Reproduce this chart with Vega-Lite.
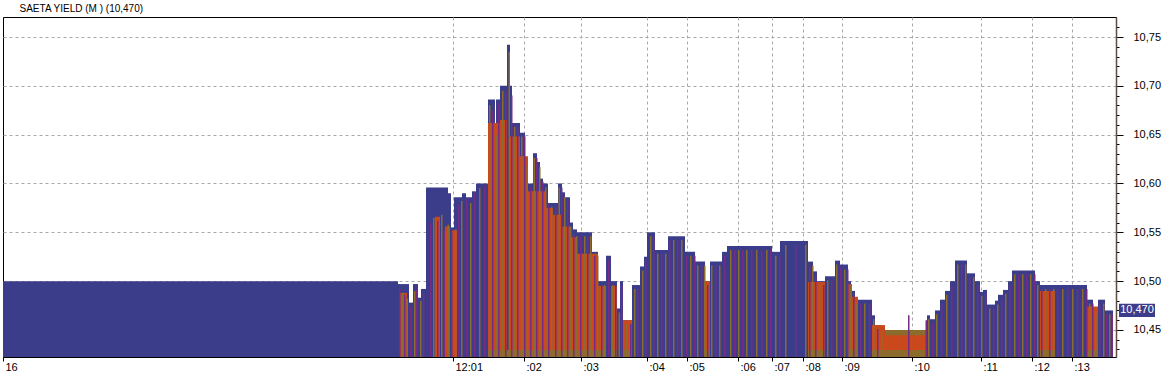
{
  "$schema": "https://vega.github.io/schema/vega-lite/v6.json",
  "width": 1113,
  "height": 340,
  "autosize": {"type": "none"},
  "padding": {"left": 3, "top": 17, "right": 54, "bottom": 19},
  "background": "#ffffff",
  "title": {"text": "SAETA YIELD (M ) (10,470)", "anchor": "start", "dx": 17, "offset": 3, "fontSize": 10, "font": "Liberation Sans", "fontWeight": "normal", "color": "#000000"},
  "config": {"view": {"stroke": "#000000", "strokeWidth": 1}, "font": "Liberation Sans"},
  "datasets": {
    "blocks": [
      {"a":3,"b":398,"v":10.5,"c":"b"},
      {"a":398,"b":409,"v":10.497,"c":"b"},
      {"a":409,"b":413,"v":10.478,"c":"b"},
      {"a":413,"b":418,"v":10.497,"c":"b"},
      {"a":418,"b":421,"v":10.483,"c":"b"},
      {"a":421,"b":426,"v":10.492,"c":"b"},
      {"a":426,"b":448,"v":10.596,"c":"b"},
      {"a":448,"b":451,"v":10.59,"c":"b"},
      {"a":451,"b":454,"v":10.555,"c":"b"},
      {"a":454,"b":462,"v":10.586,"c":"b"},
      {"a":462,"b":466,"v":10.59,"c":"b"},
      {"a":466,"b":472,"v":10.586,"c":"b"},
      {"a":472,"b":476,"v":10.592,"c":"b"},
      {"a":476,"b":488,"v":10.6,"c":"b"},
      {"a":488,"b":495,"v":10.686,"c":"b"},
      {"a":495,"b":496,"v":10.66,"c":"b"},
      {"a":496,"b":500,"v":10.686,"c":"b"},
      {"a":500,"b":507,"v":10.7,"c":"b"},
      {"a":507,"b":510,"v":10.742,"c":"b"},
      {"a":510,"b":512,"v":10.7,"c":"b"},
      {"a":512,"b":520,"v":10.662,"c":"b"},
      {"a":520,"b":525,"v":10.652,"c":"b"},
      {"a":525,"b":528,"v":10.622,"c":"b"},
      {"a":528,"b":533,"v":10.6,"c":"b"},
      {"a":533,"b":537,"v":10.631,"c":"b"},
      {"a":537,"b":540,"v":10.622,"c":"b"},
      {"a":540,"b":543,"v":10.605,"c":"b"},
      {"a":543,"b":548,"v":10.6,"c":"b"},
      {"a":548,"b":558,"v":10.58,"c":"b"},
      {"a":558,"b":562,"v":10.6,"c":"b"},
      {"a":562,"b":565,"v":10.591,"c":"b"},
      {"a":565,"b":570,"v":10.586,"c":"b"},
      {"a":570,"b":573,"v":10.56,"c":"b"},
      {"a":573,"b":577,"v":10.553,"c":"b"},
      {"a":577,"b":592,"v":10.55,"c":"b"},
      {"a":592,"b":598,"v":10.53,"c":"b"},
      {"a":598,"b":606,"v":10.5,"c":"b"},
      {"a":606,"b":611,"v":10.526,"c":"b"},
      {"a":611,"b":617,"v":10.5,"c":"b"},
      {"a":617,"b":620,"v":10.472,"c":"b"},
      {"a":620,"b":623,"v":10.5,"c":"b"},
      {"a":623,"b":632,"v":10.46,"c":"b"},
      {"a":632,"b":640,"v":10.496,"c":"b"},
      {"a":640,"b":644,"v":10.515,"c":"b"},
      {"a":644,"b":647,"v":10.525,"c":"b"},
      {"a":647,"b":655,"v":10.55,"c":"b"},
      {"a":655,"b":668,"v":10.532,"c":"b"},
      {"a":668,"b":685,"v":10.546,"c":"b"},
      {"a":685,"b":695,"v":10.53,"c":"b"},
      {"a":695,"b":705,"v":10.52,"c":"b"},
      {"a":705,"b":710,"v":10.5,"c":"b"},
      {"a":710,"b":722,"v":10.52,"c":"b"},
      {"a":722,"b":727,"v":10.53,"c":"b"},
      {"a":727,"b":772,"v":10.536,"c":"b"},
      {"a":772,"b":780,"v":10.53,"c":"b"},
      {"a":780,"b":808,"v":10.541,"c":"b"},
      {"a":808,"b":813,"v":10.52,"c":"b"},
      {"a":813,"b":817,"v":10.51,"c":"b"},
      {"a":817,"b":825,"v":10.5,"c":"b"},
      {"a":825,"b":835,"v":10.505,"c":"b"},
      {"a":835,"b":840,"v":10.521,"c":"b"},
      {"a":840,"b":848,"v":10.517,"c":"b"},
      {"a":848,"b":851,"v":10.5,"c":"b"},
      {"a":851,"b":855,"v":10.49,"c":"b"},
      {"a":855,"b":872,"v":10.481,"c":"b"},
      {"a":872,"b":875,"v":10.465,"c":"b"},
      {"a":875,"b":880,"v":10.455,"c":"b"},
      {"a":880,"b":885,"v":10.453,"c":"b"},
      {"a":885,"b":927,"v":10.45,"c":"b"},
      {"a":927,"b":930,"v":10.465,"c":"b"},
      {"a":930,"b":935,"v":10.461,"c":"b"},
      {"a":935,"b":940,"v":10.47,"c":"b"},
      {"a":940,"b":945,"v":10.481,"c":"b"},
      {"a":945,"b":950,"v":10.49,"c":"b"},
      {"a":950,"b":955,"v":10.5,"c":"b"},
      {"a":955,"b":967,"v":10.521,"c":"b"},
      {"a":967,"b":975,"v":10.508,"c":"b"},
      {"a":975,"b":980,"v":10.5,"c":"b"},
      {"a":980,"b":983,"v":10.489,"c":"b"},
      {"a":983,"b":987,"v":10.491,"c":"b"},
      {"a":987,"b":995,"v":10.476,"c":"b"},
      {"a":995,"b":998,"v":10.48,"c":"b"},
      {"a":998,"b":1003,"v":10.486,"c":"b"},
      {"a":1003,"b":1008,"v":10.491,"c":"b"},
      {"a":1008,"b":1012,"v":10.5,"c":"b"},
      {"a":1012,"b":1035,"v":10.511,"c":"b"},
      {"a":1035,"b":1040,"v":10.5,"c":"b"},
      {"a":1040,"b":1087,"v":10.496,"c":"b"},
      {"a":1087,"b":1093,"v":10.481,"c":"b"},
      {"a":1093,"b":1098,"v":10.47,"c":"b"},
      {"a":1098,"b":1105,"v":10.481,"c":"b"},
      {"a":1105,"b":1113,"v":10.47,"c":"b"},
      {"a":399,"b":407,"v":10.488,"c":"o"},
      {"a":435,"b":440,"v":10.566,"c":"o"},
      {"a":445,"b":450,"v":10.556,"c":"o"},
      {"a":452,"b":457,"v":10.552,"c":"o"},
      {"a":488,"b":500,"v":10.662,"c":"o"},
      {"a":500,"b":507,"v":10.665,"c":"o"},
      {"a":510,"b":520,"v":10.648,"c":"o"},
      {"a":520,"b":528,"v":10.628,"c":"o"},
      {"a":528,"b":545,"v":10.592,"c":"o"},
      {"a":545,"b":553,"v":10.575,"c":"o"},
      {"a":553,"b":562,"v":10.568,"c":"o"},
      {"a":562,"b":570,"v":10.556,"c":"o"},
      {"a":570,"b":577,"v":10.545,"c":"o"},
      {"a":577,"b":598,"v":10.528,"c":"o"},
      {"a":598,"b":606,"v":10.495,"c":"o"},
      {"a":611,"b":617,"v":10.495,"c":"o"},
      {"a":623,"b":632,"v":10.46,"c":"o"},
      {"a":705,"b":710,"v":10.5,"c":"o"},
      {"a":808,"b":825,"v":10.499,"c":"o"},
      {"a":848,"b":852,"v":10.497,"c":"o"},
      {"a":852,"b":858,"v":10.484,"c":"o"},
      {"a":872,"b":885,"v":10.455,"c":"o"},
      {"a":885,"b":927,"v":10.45,"c":"g"},
      {"a":885,"b":927,"v":10.4445,"c":"o"},
      {"a":1040,"b":1055,"v":10.49,"c":"o"},
      {"a":1087,"b":1098,"v":10.474,"c":"o"}
    ],
    "stripes": [
      {"a":399,"b":400.5,"v":10.492,"c":"p"},
      {"a":401.5,"b":403,"v":10.488,"c":"g"},
      {"a":404,"b":405.5,"v":10.486,"c":"p"},
      {"a":406.5,"b":408,"v":10.482,"c":"g"},
      {"a":410,"b":411.5,"v":10.474,"c":"p"},
      {"a":414,"b":415.5,"v":10.49,"c":"g"},
      {"a":416,"b":417.5,"v":10.492,"c":"p"},
      {"a":420,"b":421.5,"v":10.48,"c":"g"},
      {"a":423,"b":424.5,"v":10.488,"c":"p"},
      {"a":430,"b":431.5,"v":10.56,"c":"p"},
      {"a":433,"b":434.5,"v":10.565,"c":"g"},
      {"a":437,"b":438.5,"v":10.562,"c":"p"},
      {"a":441,"b":442.5,"v":10.568,"c":"g"},
      {"a":443.5,"b":445,"v":10.552,"c":"p"},
      {"a":447.5,"b":449,"v":10.558,"c":"g"},
      {"a":451,"b":452.5,"v":10.55,"c":"p"},
      {"a":455,"b":456.5,"v":10.553,"c":"g"},
      {"a":458,"b":459.5,"v":10.578,"c":"p"},
      {"a":461,"b":462.5,"v":10.582,"c":"g"},
      {"a":466,"b":467.5,"v":10.584,"c":"p"},
      {"a":470,"b":471.5,"v":10.58,"c":"g"},
      {"a":474,"b":475.5,"v":10.59,"c":"p"},
      {"a":479,"b":480.5,"v":10.595,"c":"g"},
      {"a":484,"b":485.5,"v":10.597,"c":"p"},
      {"a":489,"b":490.5,"v":10.68,"c":"g"},
      {"a":492,"b":493.5,"v":10.675,"c":"p"},
      {"a":495.5,"b":497,"v":10.65,"c":"g"},
      {"a":498,"b":499.5,"v":10.683,"c":"p"},
      {"a":502,"b":503.5,"v":10.695,"c":"g"},
      {"a":505,"b":506.5,"v":10.695,"c":"p"},
      {"a":508.5,"b":510,"v":10.735,"c":"g"},
      {"a":511,"b":512.5,"v":10.69,"c":"p"},
      {"a":514,"b":515.5,"v":10.658,"c":"g"},
      {"a":517,"b":518.5,"v":10.658,"c":"p"},
      {"a":521,"b":522.5,"v":10.648,"c":"g"},
      {"a":524,"b":525.5,"v":10.648,"c":"p"},
      {"a":526.5,"b":528,"v":10.618,"c":"g"},
      {"a":530,"b":531.5,"v":10.596,"c":"p"},
      {"a":533.5,"b":535,"v":10.626,"c":"g"},
      {"a":536,"b":537.5,"v":10.626,"c":"p"},
      {"a":539,"b":540.5,"v":10.617,"c":"g"},
      {"a":542,"b":543.5,"v":10.602,"c":"p"},
      {"a":545,"b":546.5,"v":10.596,"c":"g"},
      {"a":548,"b":549.5,"v":10.578,"c":"p"},
      {"a":551,"b":552.5,"v":10.576,"c":"g"},
      {"a":555,"b":556.5,"v":10.576,"c":"p"},
      {"a":558.5,"b":560,"v":10.596,"c":"g"},
      {"a":561,"b":562.5,"v":10.596,"c":"p"},
      {"a":564,"b":565.5,"v":10.586,"c":"g"},
      {"a":567,"b":568.5,"v":10.582,"c":"p"},
      {"a":570,"b":571.5,"v":10.556,"c":"g"},
      {"a":573,"b":574.5,"v":10.548,"c":"p"},
      {"a":576,"b":577.5,"v":10.546,"c":"g"},
      {"a":580,"b":581.5,"v":10.546,"c":"p"},
      {"a":584,"b":585.5,"v":10.546,"c":"g"},
      {"a":587,"b":588.5,"v":10.546,"c":"p"},
      {"a":590,"b":591.5,"v":10.546,"c":"g"},
      {"a":594,"b":595.5,"v":10.526,"c":"p"},
      {"a":597,"b":598.5,"v":10.526,"c":"g"},
      {"a":601,"b":602.5,"v":10.496,"c":"p"},
      {"a":604,"b":605.5,"v":10.496,"c":"g"},
      {"a":608,"b":609.5,"v":10.522,"c":"p"},
      {"a":612,"b":613.5,"v":10.496,"c":"g"},
      {"a":615,"b":616.5,"v":10.496,"c":"p"},
      {"a":618.5,"b":620,"v":10.468,"c":"g"},
      {"a":621,"b":622.5,"v":10.496,"c":"p"},
      {"a":626,"b":627.5,"v":10.456,"c":"g"},
      {"a":630,"b":631.5,"v":10.456,"c":"p"},
      {"a":634,"b":635.5,"v":10.492,"c":"g"},
      {"a":637,"b":638.5,"v":10.492,"c":"p"},
      {"a":642,"b":643.5,"v":10.511,"c":"g"},
      {"a":645,"b":646.5,"v":10.521,"c":"p"},
      {"a":650,"b":651.5,"v":10.546,"c":"g"},
      {"a":653,"b":654.5,"v":10.546,"c":"p"},
      {"a":657,"b":658.5,"v":10.528,"c":"g"},
      {"a":661,"b":662.5,"v":10.528,"c":"p"},
      {"a":665,"b":666.5,"v":10.528,"c":"g"},
      {"a":669,"b":670.5,"v":10.542,"c":"p"},
      {"a":673,"b":674.5,"v":10.542,"c":"g"},
      {"a":677,"b":678.5,"v":10.542,"c":"p"},
      {"a":681,"b":682.5,"v":10.542,"c":"g"},
      {"a":686,"b":687.5,"v":10.526,"c":"p"},
      {"a":690,"b":691.5,"v":10.526,"c":"g"},
      {"a":694,"b":695.5,"v":10.526,"c":"p"},
      {"a":697,"b":698.5,"v":10.516,"c":"g"},
      {"a":701,"b":702.5,"v":10.516,"c":"p"},
      {"a":704,"b":705.5,"v":10.516,"c":"g"},
      {"a":707,"b":708.5,"v":10.496,"c":"p"},
      {"a":711,"b":712.5,"v":10.516,"c":"g"},
      {"a":715,"b":716.5,"v":10.516,"c":"p"},
      {"a":719,"b":720.5,"v":10.516,"c":"g"},
      {"a":724,"b":725.5,"v":10.526,"c":"p"},
      {"a":730,"b":731.5,"v":10.532,"c":"g"},
      {"a":734,"b":735.5,"v":10.532,"c":"p"},
      {"a":738,"b":739.5,"v":10.532,"c":"g"},
      {"a":742,"b":743.5,"v":10.532,"c":"p"},
      {"a":746,"b":747.5,"v":10.532,"c":"g"},
      {"a":751,"b":752.5,"v":10.532,"c":"p"},
      {"a":756,"b":757.5,"v":10.532,"c":"g"},
      {"a":761,"b":762.5,"v":10.532,"c":"p"},
      {"a":766,"b":767.5,"v":10.532,"c":"g"},
      {"a":770,"b":771.5,"v":10.532,"c":"p"},
      {"a":775,"b":776.5,"v":10.526,"c":"g"},
      {"a":779,"b":780.5,"v":10.526,"c":"p"},
      {"a":785,"b":786.5,"v":10.537,"c":"g"},
      {"a":795,"b":796.5,"v":10.537,"c":"p"},
      {"a":805,"b":806.5,"v":10.537,"c":"g"},
      {"a":809,"b":810.5,"v":10.516,"c":"p"},
      {"a":812,"b":813.5,"v":10.516,"c":"g"},
      {"a":815,"b":816.5,"v":10.506,"c":"p"},
      {"a":819,"b":820.5,"v":10.496,"c":"g"},
      {"a":823,"b":824.5,"v":10.496,"c":"p"},
      {"a":827,"b":828.5,"v":10.501,"c":"g"},
      {"a":831,"b":832.5,"v":10.501,"c":"p"},
      {"a":836,"b":837.5,"v":10.517,"c":"g"},
      {"a":840,"b":841.5,"v":10.514,"c":"p"},
      {"a":844,"b":845.5,"v":10.512,"c":"g"},
      {"a":847,"b":848.5,"v":10.512,"c":"p"},
      {"a":850,"b":851.5,"v":10.496,"c":"g"},
      {"a":853,"b":854.5,"v":10.486,"c":"p"},
      {"a":856,"b":857.5,"v":10.477,"c":"g"},
      {"a":860,"b":861.5,"v":10.477,"c":"p"},
      {"a":864,"b":865.5,"v":10.477,"c":"g"},
      {"a":869,"b":870.5,"v":10.477,"c":"p"},
      {"a":873,"b":874.5,"v":10.461,"c":"g"},
      {"a":877,"b":878.5,"v":10.451,"c":"p"},
      {"a":881,"b":882.5,"v":10.449,"c":"g"},
      {"a":908,"b":909.5,"v":10.465,"c":"p"},
      {"a":925.5,"b":927,"v":10.46,"c":"p"},
      {"a":928,"b":929.5,"v":10.461,"c":"g"},
      {"a":932,"b":933.5,"v":10.457,"c":"p"},
      {"a":936,"b":937.5,"v":10.466,"c":"g"},
      {"a":941,"b":942.5,"v":10.477,"c":"p"},
      {"a":946,"b":947.5,"v":10.486,"c":"g"},
      {"a":951,"b":952.5,"v":10.496,"c":"p"},
      {"a":957,"b":958.5,"v":10.517,"c":"g"},
      {"a":961,"b":962.5,"v":10.517,"c":"p"},
      {"a":965,"b":966.5,"v":10.517,"c":"g"},
      {"a":969,"b":970.5,"v":10.504,"c":"p"},
      {"a":973,"b":974.5,"v":10.504,"c":"g"},
      {"a":977,"b":978.5,"v":10.496,"c":"p"},
      {"a":981,"b":982.5,"v":10.485,"c":"g"},
      {"a":985,"b":986.5,"v":10.487,"c":"p"},
      {"a":989,"b":990.5,"v":10.472,"c":"g"},
      {"a":993,"b":994.5,"v":10.472,"c":"p"},
      {"a":997,"b":998.5,"v":10.476,"c":"g"},
      {"a":1001,"b":1002.5,"v":10.482,"c":"p"},
      {"a":1005,"b":1006.5,"v":10.487,"c":"g"},
      {"a":1009,"b":1010.5,"v":10.496,"c":"p"},
      {"a":1014,"b":1015.5,"v":10.507,"c":"g"},
      {"a":1018,"b":1019.5,"v":10.507,"c":"p"},
      {"a":1022,"b":1023.5,"v":10.507,"c":"g"},
      {"a":1026,"b":1027.5,"v":10.507,"c":"p"},
      {"a":1030,"b":1031.5,"v":10.507,"c":"g"},
      {"a":1034,"b":1035.5,"v":10.507,"c":"p"},
      {"a":1037,"b":1038.5,"v":10.496,"c":"g"},
      {"a":1041,"b":1042.5,"v":10.492,"c":"p"},
      {"a":1045,"b":1046.5,"v":10.492,"c":"g"},
      {"a":1049,"b":1050.5,"v":10.492,"c":"p"},
      {"a":1053,"b":1054.5,"v":10.492,"c":"g"},
      {"a":1057,"b":1058.5,"v":10.492,"c":"p"},
      {"a":1062,"b":1063.5,"v":10.492,"c":"g"},
      {"a":1067,"b":1068.5,"v":10.492,"c":"p"},
      {"a":1072,"b":1073.5,"v":10.492,"c":"g"},
      {"a":1077,"b":1078.5,"v":10.492,"c":"p"},
      {"a":1082,"b":1083.5,"v":10.492,"c":"g"},
      {"a":1086,"b":1087.5,"v":10.492,"c":"p"},
      {"a":1089,"b":1090.5,"v":10.477,"c":"g"},
      {"a":1092,"b":1093.5,"v":10.477,"c":"p"},
      {"a":1095,"b":1096.5,"v":10.466,"c":"g"},
      {"a":1099,"b":1100.5,"v":10.477,"c":"p"},
      {"a":1103,"b":1104.5,"v":10.477,"c":"g"},
      {"a":1106,"b":1107.5,"v":10.466,"c":"p"},
      {"a":1109,"b":1110.5,"v":10.466,"c":"g"},
      {"a":1111.5,"b":1113,"v":10.466,"c":"p"}
    ],
    "bands": [
      {"a":488,"b":598},{"a":598,"b":606},{"a":611,"b":617},{"a":623,"b":632},{"a":705,"b":710},
      {"a":808,"b":825},{"a":848,"b":858},{"a":872,"b":927},{"a":1040,"b":1055},{"a":1087,"b":1098}
    ],
    "last": [{"v": 10.47, "lab": "10,470"}]
  },
  "layer": [
    {
      "data": {"name": "blocks"},
      "mark": {"type": "rect"},
      "encoding": {
        "x": {"field": "a", "type": "quantitative",
          "scale": {"domain": [3, 1116], "nice": false, "zero": false},
          "axis": {"orient": "bottom", "title": null, "domain": false, "tickCount": 100,
            "values": [3, 453, 524, 581, 647, 687, 738, 772, 803, 842, 912, 981, 1032, 1072],
            "labelExpr": "['16','12:01',':02',':03',':04',':05',':06',':07',':08',':09',':10',':11',':12',':13'][indexof([3,453,524,581,647,687,738,772,803,842,912,981,1032,1072], datum.value)]",
            "labelAlign": "left", "labelOffset": 2, "labelPadding": 0, "labelFontSize": 11, "labelFont": "Liberation Sans", "labelColor": "#000000",
            "labelOverlap": false, "labelBound": false, "labelFlush": false,
            "tickSize": 4, "tickColor": "#000000",
            "grid": true, "gridDash": [3, 3], "gridColor": "#a8a8a8",
            "gridOpacity": {"condition": {"test": "datum.value < 10", "value": 0}, "value": 1}}},
        "x2": {"field": "b"},
        "y": {"field": "v", "type": "quantitative",
          "scale": {"domain": [10.4223, 10.7705], "nice": false, "zero": false},
          "axis": {"orient": "right", "title": null, "tickCount": 100,
            "values": [10.43,10.44,10.45,10.46,10.47,10.48,10.49,10.5,10.51,10.52,10.53,10.54,10.55,10.56,10.57,10.58,10.59,10.6,10.61,10.62,10.63,10.64,10.65,10.66,10.67,10.68,10.69,10.7,10.71,10.72,10.73,10.74,10.75,10.76],
            "labelExpr": "abs(datum.value*20 - round(datum.value*20)) < 0.001 ? replace(format(datum.value, '.2f'), '.', ',') : ''",
            "labelFontSize": 11, "labelFont": "Liberation Sans", "labelColor": "#000000", "labelPadding": 10,
            "labelOverlap": false, "labelBound": false, "labelFlush": false,
            "tickColor": "#000000", "tickSize": 7,
            "tickDash": {"condition": {"test": "abs(datum.value*20 - round(datum.value*20)) < 0.001", "value": [7, 0]}, "value": [3, 20]},
            "domain": true, "domainColor": "#5c4c44", "domainWidth": 1.5,
            "grid": true, "gridDash": [3, 3], "gridColor": "#a8a8a8",
            "gridOpacity": {"condition": {"test": "abs(datum.value*20 - round(datum.value*20)) < 0.001", "value": 1}, "value": 0}}},
        "y2": {"datum": 10.4223},
        "color": {"field": "c", "type": "nominal",
          "scale": {"domain": ["b", "o", "p", "g"], "range": ["#3b3d8b", "#c9491d", "#762b86", "#8c6c2c"]},
          "legend": null}
      }
    },
    {
      "data": {"name": "bands"},
      "mark": {"type": "rect", "color": "#8c6c2c"},
      "encoding": {
        "x": {"field": "a", "type": "quantitative"},
        "x2": {"field": "b"},
        "y": {"datum": 10.4295, "type": "quantitative"},
        "y2": {"datum": 10.4223}
      }
    },
    {
      "data": {"name": "stripes"},
      "mark": {"type": "rect"},
      "encoding": {
        "x": {"field": "a", "type": "quantitative"},
        "x2": {"field": "b"},
        "y": {"field": "v", "type": "quantitative"},
        "y2": {"datum": 10.4223},
        "color": {"field": "c", "type": "nominal", "legend": null}
      }
    },
    {
      "data": {"name": "last"},
      "mark": {"type": "rect", "color": "#3b3d8b"},
      "encoding": {
        "x": {"datum": 1119, "type": "quantitative"},
        "x2": {"datum": 1155},
        "y": {"datum": 10.4768, "type": "quantitative"},
        "y2": {"datum": 10.4632}
      }
    },
    {
      "data": {"name": "last"},
      "mark": {"type": "text", "color": "#ffffff", "fontSize": 11, "font": "Liberation Sans", "align": "center", "baseline": "middle"},
      "encoding": {
        "x": {"datum": 1137, "type": "quantitative"},
        "y": {"field": "v", "type": "quantitative"},
        "text": {"field": "lab"}
      }
    }
  ]
}
